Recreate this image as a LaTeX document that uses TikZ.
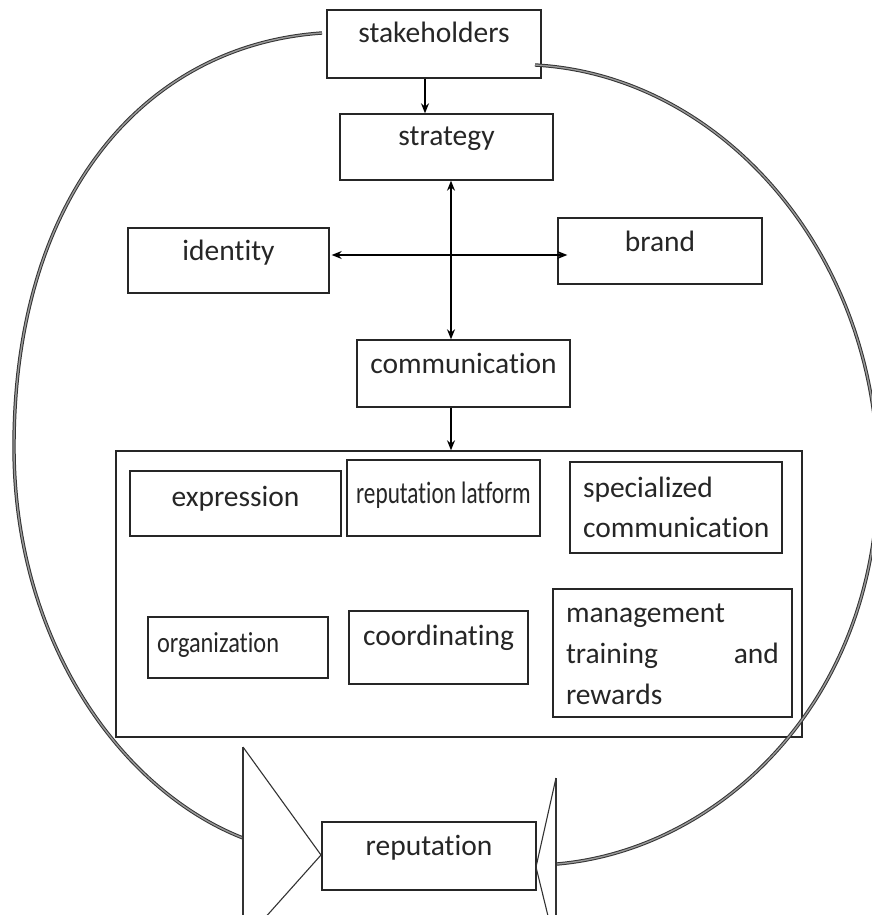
\documentclass[tikz,border=0pt]{standalone}
\usepackage{fontspec}
\setmainfont{Carlito}[Ligatures={NoCommon}]
\newfontfamily\condfont{Carlito}[FakeStretch=0.75,Ligatures={NoCommon}]
\newfontfamily\orgfont{Carlito}[FakeStretch=0.84,Ligatures={NoCommon}]
\usetikzlibrary{arrows.meta}
\begin{document}
\begin{tikzpicture}[x=1pt,y=-1pt,
  box/.style={draw=black!85, line width=1.4pt, fill=white, inner sep=0pt,
    text=black!85, text height=21pt, align=center},
  arr/.style={draw=black, line width=1.2pt, -{Stealth[length=10pt,width=8pt]}},
  darr/.style={draw=black, line width=1.2pt, {Stealth[length=10pt,width=8pt]}-{Stealth[length=10pt,width=8pt]}},
  ring/.style={draw=black!80, line width=1pt, double=black!40, double distance=1.4pt},
  head/.style={draw=black!80, line width=1.1pt}]
\useasboundingbox (0,0) rectangle (872,915);
\fontsize{29.5}{40}\selectfont
\begin{scope}
\clip (0,0) rectangle (872,915);
% boxes
\node[box, minimum width=214pt, minimum height=68pt, text depth=23pt] (stake) at (434,44) {stakeholders};
\node[box, minimum width=213pt, minimum height=66pt, text depth=23pt] (strat) at (446.5,147) {strategy};
\node[box, minimum width=201pt, minimum height=65pt, text depth=22pt] (ident) at (228.5,260.5) {identity};
\node[box, minimum width=204pt, minimum height=66pt, text depth=21pt] (brand) at (660,251) {brand};
\node[box, minimum width=213pt, minimum height=67pt, text depth=22pt] (comm) at (463.5,373.5) {communication};
\node[box, minimum width=686pt, minimum height=286pt] (big) at (459,594) {};
\node[box, minimum width=211pt, minimum height=65pt, text depth=16pt] (expr) at (235.5,503.5) {expression};
\node[box, minimum width=193pt, minimum height=76pt, text depth=11pt, font=\condfont\fontsize{31}{40}\selectfont] (replat) at (443.5,498) {reputation latform};
\node[box, minimum width=212pt, minimum height=91pt, text depth=42pt, align=left, text width=186pt] (spec) at (676,507.5) {specialized\\communication};
\node[box, minimum width=180pt, minimum height=61pt, text depth=12pt, align=left, text width=162pt, font=\orgfont\fontsize{29}{40}\selectfont] (org) at (238,647.5) {organization};
\node[box, minimum width=179pt, minimum height=73pt, text depth=26pt] (coord) at (438.5,647.5) {coordinating};
\node[box, minimum width=239pt, minimum height=128pt, text depth=83pt, align=left, text width=213pt, font=\fontsize{29.5}{41}\selectfont] (mgmt) at (672.5,653) {management\\training\hfill and\\rewards};
\node[box, minimum width=214pt, minimum height=68pt, text depth=23pt] (rep) at (429,856) {reputation};
% connectors
\coordinate (ax) at (425,0);
\coordinate (bx) at (451,0);
\coordinate (cy) at (0,255);
\coordinate (bw) at ([xshift=10pt]brand.west);
\coordinate (ie) at ([xshift=2pt]ident.east);
\draw[arr] (stake.south -| ax) -- (strat.north -| ax);
\draw[darr] (strat.south -| bx) -- (comm.north -| bx);
\draw[darr] (ie |- cy) -- (bw |- cy);
\draw[arr] (comm.south -| bx) -- (big.north -| bx);
% ring
\draw[ring, line cap=butt] (322,33) .. controls (145,45) and (14,195) .. (14,447)
  .. controls (14,640) and (120,790) .. (243,838);
\draw[ring, line cap=butt] (535,65) .. controls (720,75) and (875,250) .. (878,470)
  .. controls (880,700) and (720,850) .. (557,864);
% arrow heads of the ring
\draw[head] (243,747) -- (243,920);
\draw[head] (243,747) -- (321,855) -- (263,920);
\draw[head] (556,778) -- (556,920);
\draw[head] (556,778) -- (536,867) -- (549,920);
\end{scope}
\end{tikzpicture}
\end{document}
